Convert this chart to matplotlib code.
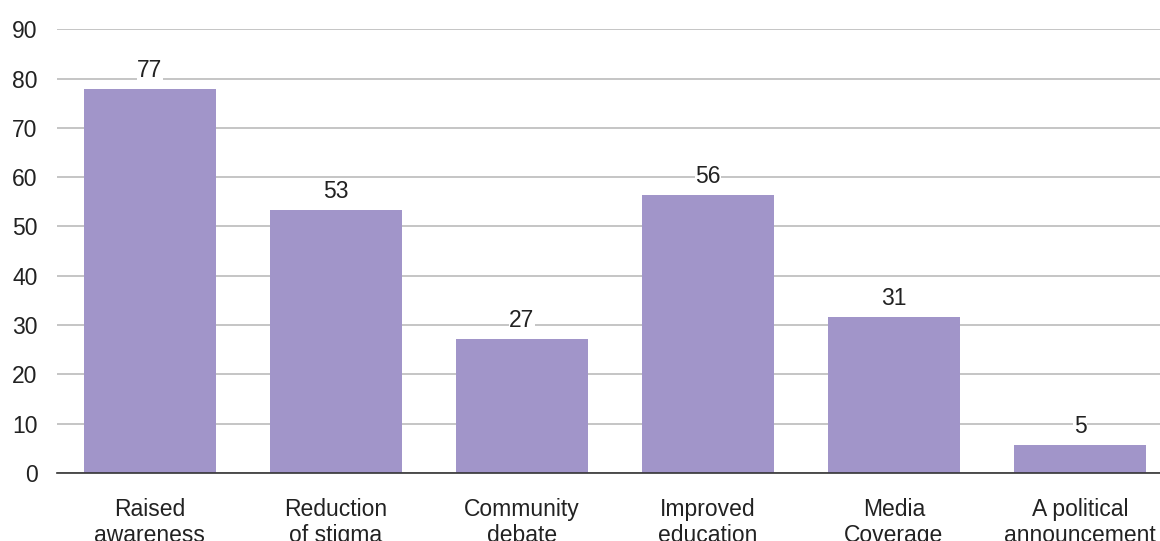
import matplotlib.pyplot as plt

plt.rcParams['font.family'] = ['Liberation Sans', 'DejaVu Sans']

categories = ["Raised\nawareness", "Reduction\nof stigma", "Community\ndebate",
              "Improved\neducation", "Media\nCoverage", "A political\nannouncement"]
values = [77.8, 53.4, 27.2, 56.4, 31.6, 5.6]
labels = ["77", "53", "27", "56", "31", "5"]

fig = plt.figure(figsize=(11.6, 5.41), dpi=100)
ax = fig.add_axes([0.049, 0.126, 0.951, 0.82])

x = range(len(categories))
bars = ax.bar(x, values, width=0.71, color='#a195c9', zorder=2)

for b, lab in zip(bars, labels):
    ax.text(b.get_x() + b.get_width() / 2, b.get_height() + 1.4, lab,
            ha='center', va='bottom', fontsize=16.5, color='#222222', zorder=3,
            bbox=dict(facecolor='white', edgecolor='none', pad=0.3))

ax.set_xlim(-0.5, 5.43)
ax.set_ylim(0, 90)
ax.set_yticks(range(0, 91, 10))
ax.yaxis.grid(True, color='#b5b5b5', linewidth=1.1, zorder=0)
ax.set_axisbelow(True)

ax.set_xticks(list(x))
ax.set_xticklabels(categories, fontsize=16.5, color='#222222', linespacing=1.15)
ax.tick_params(axis='x', length=0, pad=18)
ax.tick_params(axis='y', length=0, pad=14, labelsize=16.5, labelcolor='#222222')

for s in ['top', 'right', 'left']:
    ax.spines[s].set_visible(False)
ax.spines['bottom'].set_color('#333333')
ax.spines['bottom'].set_linewidth(1.2)

fig.savefig('out.png', dpi=100)
